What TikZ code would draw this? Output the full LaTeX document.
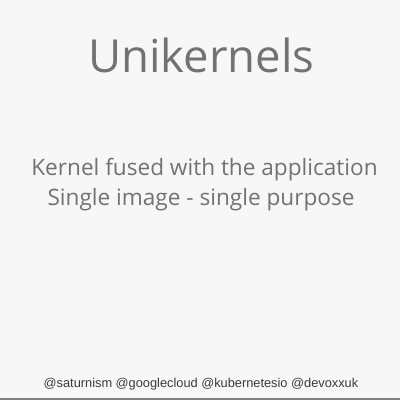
\documentclass[tikz,border=0pt]{standalone}
\usepackage{fontspec}
\setmainfont{Open Sans}
\newfontfamily\footfont{Liberation Sans}
\definecolor{slidegray}{HTML}{727272}
\definecolor{slidebg}{HTML}{F7F7F7}
\definecolor{footgray}{HTML}{3A3A3A}
\begin{document}
\begin{tikzpicture}[x=1pt,y=-1pt]
\useasboundingbox (0,0) rectangle (400,400);
\fill[slidebg] (0,0) rectangle (400,400);
\node[text=slidegray,font=\fontsize{45.5}{52}\selectfont,anchor=base] (title) at (201.5,72) {Unikernels};
\node[text=slidegray,font=\fontsize{22.6}{27}\selectfont,anchor=base] (line1) at (204.5,175) {Kernel fused with the application};
\node[text=slidegray,font=\fontsize{22.6}{27}\selectfont,anchor=base] (line2) at (201,205) {Single image - single purpose};
%\node (logo) at (200,300) {};
\node[text=footgray,font=\footfont\fontsize{12.8}{14}\selectfont,anchor=base] (foot) at (201,387) {@saturnism @googlecloud @kubernetesio @devoxxuk};
\draw[gray,line width=1.5pt] (0,399) -- (400,399);
\end{tikzpicture}
\end{document}
